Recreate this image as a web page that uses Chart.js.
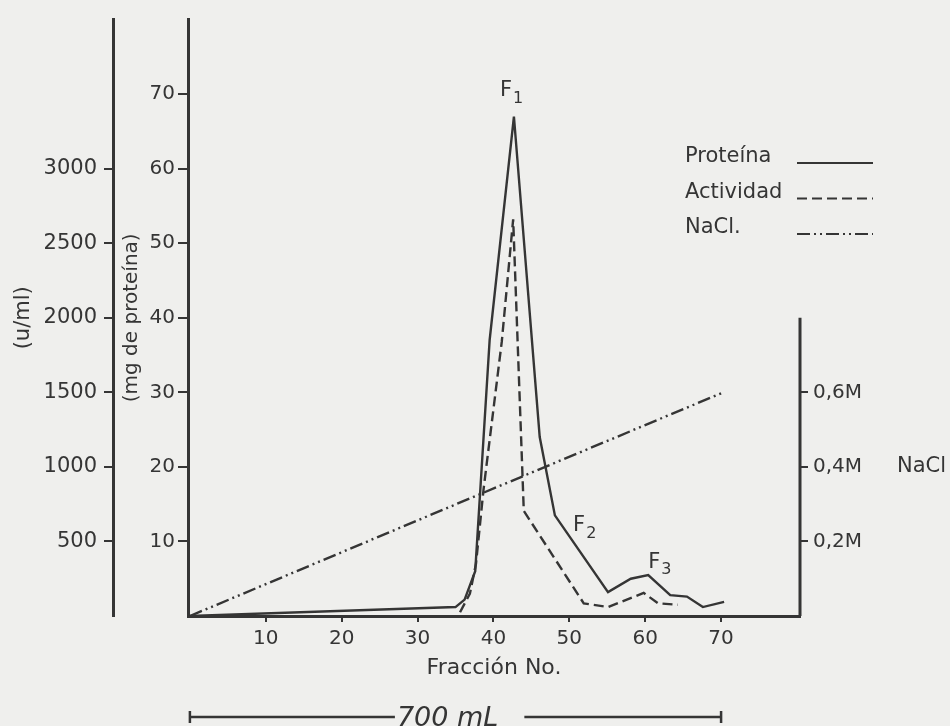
<!DOCTYPE html>
<html>
<head>
<meta charset="utf-8">
<title>Fracción No.</title>
<script src="https://cdn.jsdelivr.net/npm/chart.js@4.4.0/dist/chart.umd.min.js"></script>
<style>
  body { margin: 0; background: #efefed; }
  #wrap { width: 950px; height: 726px; }
</style>
</head>
<body>
<div id="wrap"><canvas id="myChart" width="950" height="726"></canvas></div>
<script>
// valores
const protFraccion = [0, 35, 36.2, 37.6, 39.5, 42.7, 46.1, 48.1, 55.1, 58.1, 60.4, 63.3, 65.5, 67.6, 70.4];
const protMg = [0, 1.2, 2.2, 6, 37, 67, 24, 13.5, 3.2, 5.0, 5.5, 2.8, 2.6, 1.2, 1.9];
const actFraccion = [35.6, 36.9, 37.7, 38.7, 41.1, 42.6, 44.0, 51.9, 55.1, 59.8, 61.7, 64.3];
const actUml = [25, 150, 350, 850, 1840, 2660, 705, 85, 60, 155, 85, 75];
const naclFraccion = [0, 38.6, 70.3];
const naclM = [0, 0.33, 0.6];

const fraccionTicks = [10, 20, 30, 40, 50, 60, 70];
const mgTicks = [10, 20, 30, 40, 50, 60, 70];
const umlTicks = [500, 1000, 1500, 2000, 2500, 3000];
const naclTicks = [0.2, 0.4, 0.6];
const naclTickLabels = ['0,2M', '0,4M', '0,6M'];
const seriesLabels = ['Proteína', 'Actividad', 'NaCl.'];
const picos = ['1', '2', '3'];
const volumen = [0, 70]; // 700 mL

const ink = '#353535';
const fam = "'DejaVu Sans', sans-serif";

function toPoints(xs, ys) {
    let pts = [];
    for (let i = 0; i < xs.length; i++) {
        pts.push({x: xs[i], y: ys[i]});
    }
    return pts;
}

// F1, F2, F3 (posicion en unidades de fraccion / mg)
const picoPos = [{x: 40.85, y: 70.5}, {x: 50.5, y: 12.1}, {x: 60.4, y: 7.2}];

const extras = {
    id: 'extras',
    afterDraw(chart) {
        const ctx = chart.ctx;
        const xs = chart.scales.x;
        const ym = chart.scales.y;
        const yn = chart.scales.yNacl;
        const area = chart.chartArea;
        ctx.save();
        ctx.strokeStyle = ink;
        ctx.fillStyle = ink;

        // eje NaCl solo hasta 0,8M
        ctx.lineWidth = 3;
        ctx.beginPath();
        ctx.moveTo(area.right, yn.getPixelForValue(0));
        ctx.lineTo(area.right, yn.getPixelForValue(0.8));
        ctx.stroke();

        ctx.font = '21px ' + fam;
        ctx.textBaseline = 'middle';
        ctx.textAlign = 'left';
        ctx.fillText('NaCl', area.right + 97, yn.getPixelForValue(0.4));

        // F1 F2 F3
        for (let i = 0; i < picos.length; i++) {
            let px = xs.getPixelForValue(picoPos[i].x);
            let py = ym.getPixelForValue(picoPos[i].y);
            ctx.font = '21px ' + fam;
            ctx.fillText('F', px, py);
            let w = ctx.measureText('F').width;
            ctx.font = '16px ' + fam;
            ctx.fillText(picos[i], px + w + 1, py + 8);
        }

        // leyenda
        ctx.font = '21px ' + fam;
        ctx.lineWidth = 2;
        chart.data.datasets.forEach(function (ds, i) {
            let y = 157 + i * 35.5;
            ctx.setLineDash([]);
            ctx.fillText(ds.label, 685, y);
            ctx.setLineDash(ds.borderDash || []);
            ctx.beginPath();
            ctx.moveTo(797, y + 6);
            ctx.lineTo(873, y + 6);
            ctx.stroke();
        });
        ctx.setLineDash([]);

        // barra 700 mL
        let x0 = xs.getPixelForValue(volumen[0]);
        let x1 = xs.getPixelForValue(volumen[1]);
        let yb = 717;
        ctx.font = 'italic 27px ' + fam;
        ctx.textBaseline = 'alphabetic';
        let txt = '700 mL';
        let tx = x0 + 207;
        let tw = ctx.measureText(txt).width;
        ctx.fillText(txt, tx, 726);
        ctx.lineWidth = 2.5;
        ctx.beginPath();
        ctx.moveTo(x0, yb);
        ctx.lineTo(tx - 2, yb);
        ctx.moveTo(tx + tw + 26, yb);
        ctx.lineTo(x1, yb);
        ctx.moveTo(x0, yb - 6);
        ctx.lineTo(x0, yb + 6);
        ctx.moveTo(x1, yb - 6);
        ctx.lineTo(x1, yb + 6);
        ctx.stroke();
        ctx.restore();
    }
};

runChart();
function runChart() {
    const ctx = document.getElementById('myChart').getContext('2d');
    const myChart = new Chart(ctx, {
        type: 'line',
        data: {
            datasets: [{
                label: seriesLabels[0],
                data: toPoints(protFraccion, protMg),
                yAxisID: 'y',
                borderColor: ink,
                borderWidth: 2.4,
                pointRadius: 0,
                tension: 0
            }, {
                label: seriesLabels[1],
                data: toPoints(actFraccion, actUml),
                yAxisID: 'yUml',
                borderColor: ink,
                borderWidth: 2.4,
                borderDash: [10, 5],
                pointRadius: 0,
                tension: 0
            }, {
                label: seriesLabels[2],
                data: toPoints(naclFraccion, naclM),
                yAxisID: 'yNacl',
                borderColor: ink,
                borderWidth: 2.4,
                borderDash: [13, 4, 2, 4, 2, 4],
                pointRadius: 0,
                tension: 0
            }]
        },
        options: {
            responsive: false,
            animation: false,
            layout: {padding: {left: 0, right: 0, top: 16, bottom: 0}},
            plugins: {
                legend: {display: false},
                tooltip: {enabled: false}
            },
            scales: {
                x: {
                    type: 'linear',
                    position: 'bottom',
                    min: -0.25,
                    max: 80.4,
                    afterBuildTicks: function (s) { s.ticks = fraccionTicks.map(v => ({value: v})); },
                    afterFit: function (s) { s.height = 110; },
                    grid: {drawOnChartArea: false, color: ink, lineWidth: 2, tickLength: 6},
                    border: {color: ink, width: 3},
                    ticks: {color: ink, font: {family: fam, size: 20}, padding: 5, maxRotation: 0},
                    title: {display: true, text: 'Fracción No.', color: ink, font: {family: fam, size: 22}, padding: {top: 0, bottom: 45}}
                },
                y: {
                    type: 'linear',
                    position: 'left',
                    weight: 0,
                    min: 0,
                    max: 80,
                    afterBuildTicks: function (s) { s.ticks = mgTicks.map(v => ({value: v})); },
                    afterFit: function (s) { s.width = 75; },
                    grid: {drawOnChartArea: false, color: ink, lineWidth: 2, tickLength: 10},
                    border: {color: ink, width: 3},
                    ticks: {color: ink, font: {family: fam, size: 20}, padding: 3},
                    title: {display: true, text: '(mg de proteína)', color: ink, font: {family: fam, size: 20}, padding: {top: 7, bottom: 0}}
                },
                yUml: {
                    type: 'linear',
                    position: 'left',
                    weight: 1,
                    min: 0,
                    max: 4000,
                    afterBuildTicks: function (s) { s.ticks = umlTicks.map(v => ({value: v})); },
                    afterFit: function (s) { s.width = 113; },
                    grid: {drawOnChartArea: false, color: ink, lineWidth: 2, tickLength: 9},
                    border: {color: ink, width: 3},
                    ticks: {
                        color: ink, font: {family: fam, size: 21}, padding: 7,
                        callback: function (v) { return String(v); }
                    },
                    title: {display: true, text: '(u/ml)', color: ink, font: {family: fam, size: 21}, padding: {top: 11, bottom: 0}}
                },
                yNacl: {
                    type: 'linear',
                    position: 'right',
                    min: 0,
                    max: 1.6,
                    afterBuildTicks: function (s) { s.ticks = naclTicks.map(v => ({value: v})); },
                    afterFit: function (s) { s.width = 150; },
                    grid: {drawOnChartArea: false, color: ink, lineWidth: 2, tickLength: 8},
                    border: {display: false},
                    ticks: {
                        color: ink, font: {family: fam, size: 20}, padding: 5,
                        callback: function (v) { return naclTickLabels[naclTicks.indexOf(v)]; }
                    }
                }
            }
        },
        plugins: [extras]
    });
}
</script>
</body>
</html>
